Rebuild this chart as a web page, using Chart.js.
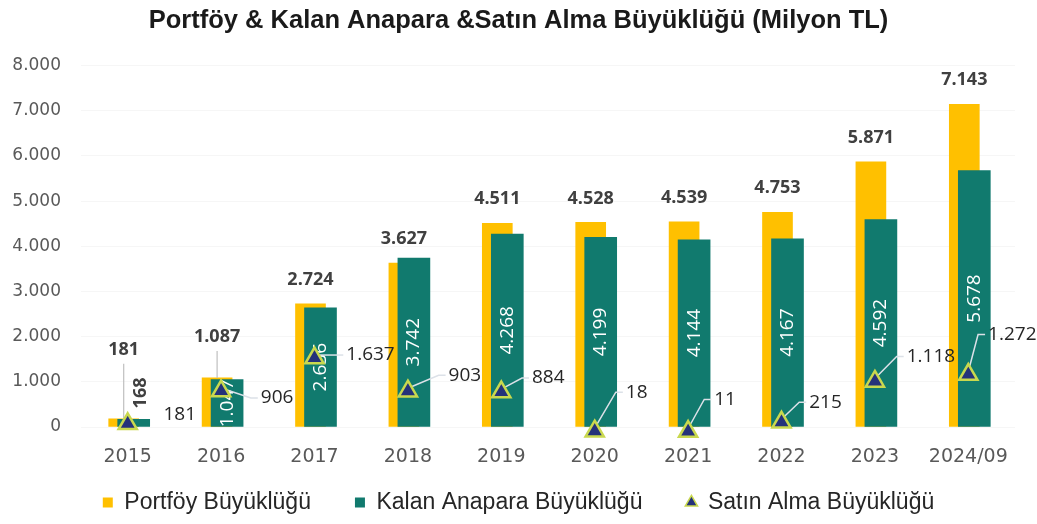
<!DOCTYPE html>
<html><head><meta charset="utf-8">
<script src="https://cdn.jsdelivr.net/npm/chart.js@4/dist/chart.umd.min.js"></script>
<style>html,body{margin:0;padding:0;background:#fff;}#wrap{width:1037px;height:524px;}</style>
</head><body><div id="wrap"><canvas id="c" width="1037" height="524"></canvas></div>
<script>
// ---- data ----
const categories = ['2015','2016','2017','2018','2019','2020','2021','2022','2023','2024/09'];
const portfoy    = [181, 1087, 2724, 3627, 4511, 4528, 4539, 4753, 5871, 7143];
const kalan      = [168, 1047, 2636, 3742, 4268, 4199, 4144, 4167, 4592, 5678];
const satinAlma  = [181, 906, 1637, 903, 884, 18, 11, 215, 1118, 1272];
const yTicks     = [0, 1000, 2000, 3000, 4000, 5000, 6000, 7000, 8000];
const seriesNames = ['Portföy Büyüklüğü', 'Kalan Anapara Büyüklüğü', 'Satın Alma Büyüklüğü'];
const titleText = 'Portföy & Kalan Anapara &Satın Alma Büyüklüğü (Milyon TL)';

// ---- styles ----
const YELLOW = '#FFC000', TEAL = '#117A6E', NAVY = '#25327A', TRI_BORDER = '#C9D84E';
const P_SHIFT = -4, K_SHIFT = 6, TRI_DY = 5;
const LEGEND_PAD = 44, LEGEND_H = 55;
const portfoyLift = [45, 17, 0, 0, 0, 0, 0, 0, 0, 0];
const buyLabelOffsets = [[52,-4],[56,12],[56,2],[57,-11],[47,-9],[42,-34],[37,-27],[44,-15],[56,-20],[44,-35]];
const buyLeader = [false, true, true, true, true, true, true, true, true, true];
const LEADER = 'rgba(220,225,232,1)';

const fmt = n => String(n).replace(/\B(?=(\d{3})+(?!\d))/g, '.');

const shiftPlugin = {
  id: 'shift',
  afterLayout(chart) {
    // keep the wide item spacing while the legend stays low on the canvas
    chart.legend.top = chart.height - 33 - LEGEND_PAD;
  },
  beforeDatasetDraw(chart, args) {
    const sx = args.index === 0 ? P_SHIFT : args.index === 1 ? K_SHIFT : 0;
    const sy = args.index === 2 ? TRI_DY : 0;
    chart.ctx.save();
    chart.ctx.translate(sx, sy);
  },
  afterDatasetDraw(chart, args) {
    chart.ctx.restore();
    if (args.index === 1) drawMid(chart);
  },
  afterDatasetsDraw(chart) { drawTop(chart); }
};

function drawMid(chart) {
  const ctx = chart.ctx;
  const mP = chart.getDatasetMeta(0), mK = chart.getDatasetMeta(1), mS = chart.getDatasetMeta(2);
  ctx.save();
  // portfoy leader lines
  ctx.strokeStyle = '#bfbfbf'; ctx.lineWidth = 1.2;
  mP.data.forEach((el, i) => {
    if (!portfoyLift[i]) return;
    const x = el.x + P_SHIFT, ly = el.y - 24 - portfoyLift[i];
    ctx.beginPath(); ctx.moveTo(x, ly + 14); ctx.lineTo(x, el.y); ctx.stroke();
  });
  // kalan labels (rotated)
  mK.data.forEach((el, i) => {
    const x = el.x + K_SHIFT;
    const t = fmt(kalan[i]);
    const h = el.base - el.y;
    ctx.save();
    if (h < 20) {
      ctx.font = 'bold 18px "Open Sans"';
      const w = ctx.measureText(t).width;
      ctx.translate(x + 7, el.y - 11 - w / 2);
      ctx.rotate(-Math.PI / 2);
      ctx.fillStyle = '#404040';
    } else {
      ctx.font = '19px "Open Sans"';
      ctx.translate(x, (el.y + el.base) / 2);
      ctx.rotate(-Math.PI / 2);
      ctx.fillStyle = '#ffffff';
    }
    ctx.textAlign = 'center'; ctx.textBaseline = 'middle';
    ctx.fillText(t, 0, 0);
    ctx.restore();
  });
  // satin alma leader lines
  ctx.font = '19px "Open Sans"';
  ctx.strokeStyle = LEADER; ctx.lineWidth = 1.5;
  mS.data.forEach((el, i) => {
    if (!buyLeader[i]) return;
    const t = fmt(satinAlma[i]);
    const w = ctx.measureText(t).width;
    const lx = el.x + buyLabelOffsets[i][0], ly = el.y + buyLabelOffsets[i][1];
    const left = lx - w / 2;
    ctx.beginPath();
    ctx.moveTo(el.x, el.y + TRI_DY - 3);
    ctx.lineTo(left - 10, ly);
    ctx.lineTo(left - 3, ly);
    ctx.stroke();
  });
  ctx.restore();
}

function drawTop(chart) {
  const ctx = chart.ctx;
  const mP = chart.getDatasetMeta(0), mS = chart.getDatasetMeta(2);
  ctx.save();
  ctx.textAlign = 'center'; ctx.textBaseline = 'middle';
  ctx.font = 'bold 18px "Open Sans"';
  ctx.fillStyle = '#404040';
  mP.data.forEach((el, i) => {
    ctx.fillText(fmt(portfoy[i]), el.x + P_SHIFT, el.y - 24 - portfoyLift[i]);
  });
  ctx.font = '19px "Open Sans"';
  ctx.fillStyle = '#262626';
  mS.data.forEach((el, i) => {
    ctx.fillText(fmt(satinAlma[i]), el.x + buyLabelOffsets[i][0], el.y + buyLabelOffsets[i][1]);
  });
  ctx.restore();
}

new Chart(document.getElementById('c'), {
  type: 'bar',
  data: {
    labels: categories,
    datasets: [
      { label: seriesNames[0], data: portfoy, backgroundColor: YELLOW, barThickness: 30, grouped: false, order: 3 },
      { label: seriesNames[1], data: kalan, backgroundColor: TEAL, barThickness: 32, grouped: false, order: 2 },
      { type: 'line', label: seriesNames[2], data: satinAlma, showLine: false, pointStyle: 'triangle',
        pointRadius: 10.5, pointBackgroundColor: NAVY, pointBorderColor: TRI_BORDER, pointBorderWidth: 2.5,
        clip: false, order: 1 }
    ]
  },
  options: {
    responsive: false, animation: false, devicePixelRatio: 1,
    layout: { padding: 0 },
    scales: {
      y: {
        min: 0, max: 8000,
        afterBuildTicks: s => { s.ticks = yTicks.map(v => ({ value: v })); },
        ticks: { callback: v => fmt(v), color: '#595959', font: { family: 'DejaVu Sans', size: 17 }, padding: 20 },
        grid: { color: '#f6f6f6', drawTicks: false },
        border: { display: false },
        afterFit: s => { s.width = 81; }
      },
      yRight: {
        type: 'linear', position: 'right', display: true,
        grid: { display: false, drawTicks: false },
        ticks: { display: false },
        border: { display: false },
        afterFit: s => { s.width = 22; }
      },
      x: {
        ticks: { color: '#595959', font: { family: 'DejaVu Sans', size: 19 }, padding: 19 },
        grid: { display: false, drawTicks: false },
        border: { display: false },
        afterFit: s => { s.height = 524 - 427 - LEGEND_H; }
      }
    },
    plugins: {
      title: { display: true, text: titleText, color: '#1a1a1a',
        font: { family: 'Liberation Sans', size: 25.5, weight: 'bold' }, padding: { top: 6, bottom: 29 } },
      legend: {
        position: 'bottom', maxHeight: LEGEND_H,
        labels: {
          usePointStyle: true, boxWidth: 10, boxHeight: 10, padding: LEGEND_PAD,
          color: '#262626', font: { family: 'Liberation Sans', size: 23 },
          generateLabels: () => seriesNames.map((t, i) => ({
            text: t, datasetIndex: i, hidden: false,
            fillStyle: [YELLOW, TEAL, NAVY][i], strokeStyle: [YELLOW, TEAL, TRI_BORDER][i],
            lineWidth: i === 2 ? 1.5 : 0, pointStyle: i === 2 ? 'triangle' : 'rect', fontColor: '#262626'
          }))
        }
      },
      tooltip: { enabled: false }
    }
  },
  plugins: [shiftPlugin]
});
</script>
</body></html>
